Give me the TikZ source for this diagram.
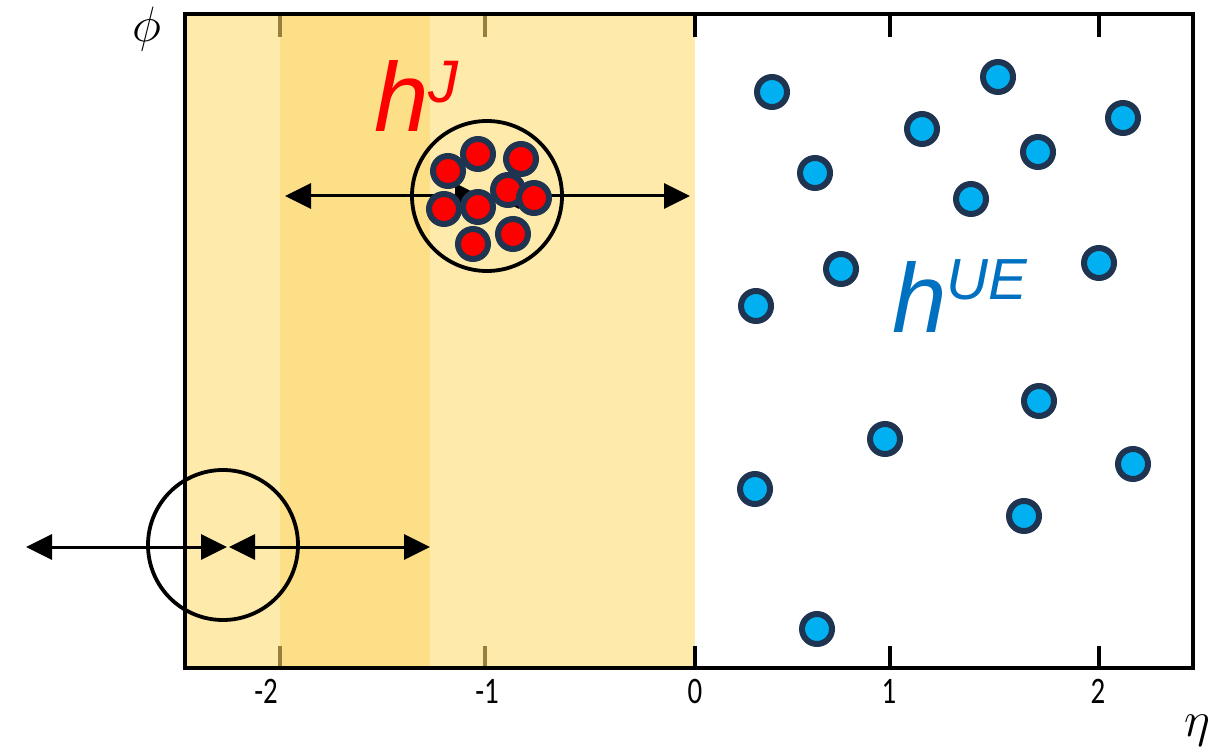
\documentclass[tikz,border=0pt]{standalone}
\usepackage{fontspec}
\setmainfont{Carlito}
\newfontfamily\labelfont{Liberation Sans}
\usetikzlibrary{arrows.meta}

\definecolor{bandlight}{RGB}{254,234,171}
\definecolor{banddark}{RGB}{253,223,136}
\definecolor{tickolive}{RGB}{150,128,60}
\definecolor{dotedge}{RGB}{31,52,80}
\definecolor{uedot}{RGB}{0,176,240}
\definecolor{uetext}{RGB}{0,112,192}

\begin{document}
\begin{tikzpicture}[
    x=0.5pt,
    y=-0.5pt,
    frame/.style={
        draw=black,
        line width=2.2pt
    },
    tickmark/.style={
        line width=1.6pt
    },
    cone/.style={
        circle,
        draw=black,
        line width=1.9pt,
        minimum size=75pt,
        inner sep=0pt
    },
    particle/.style={
        circle,
        draw=dotedge,
        line width=3pt,
        minimum size=15pt,
        inner sep=0pt
    },
    span/.style={
        line width=1.5pt,
        {Triangle[length=13pt,width=12.5pt]}-{Triangle[length=13pt,width=12.5pt]}
    },
    every node/.style={
        font=\fontsize{17}{19}\selectfont
    }
]
\useasboundingbox (0,0) rectangle (1208,753);

% Shaded eta regions
\fill[bandlight] (185,14) rectangle (695,668);
\fill[banddark] (280,14) rectangle (430,668);

% Ticks, top and bottom
\foreach \xpos/\tcol in {280/tickolive,485/tickolive,695/black,890/black,1099/black}{
    \draw[tickmark,draw=\tcol] (\xpos,14) -- (\xpos,37);
    \draw[tickmark,draw=\tcol] (\xpos,668) -- (\xpos,646);
}

% Outer frame
\draw[frame] (185,14) rectangle (1193,668);

% Tick labels
\foreach \lab/\xpos in {-2/266,-1/487,0/695,1/889,2/1098}{
    \node (tick\xpos) at (\xpos,691) {\scalebox{0.85}[1.1]{\lab}};
}

% Axis labels
\node[font=\fontsize{23}{23}\selectfont] (philab) at (147,29) {$\phi$};
\node[font=\fontsize{23}{23}\selectfont] (etalab) at (1197,731) {$\eta$};

% Cones
\node[cone] (jetcone) at (487,196) {};
\node[cone] (probecone) at (223,545) {};

% Arrows across the cones
\coordinate (jetleft) at (285,196);
\coordinate (jetmidl) at (481,196);
\coordinate (jetmidr) at (493,196);
\coordinate (jetright) at (690,196);
\draw[span] (jetleft) -- (jetmidl);
\draw[span] (jetmidr) -- (jetright);

\coordinate (probeleft) at (26,547);
\coordinate (probemidl) at (227,547);
\coordinate (probemidr) at (229,547);
\coordinate (proberight) at (430,547);
\draw[span] (probeleft) -- (probemidl);
\draw[span] (probemidr) -- (proberight);

% Jet particles
\foreach \px/\py [count=\i] in {
    448/171, 478/154, 521/159,
    508/190, 534/198, 444/209,
    478/207, 513/234, 473/244
}{
    \node[particle,fill=red] (jet\i) at (\px,\py) {};
}

% Underlying event particles
\foreach \px/\py [count=\i] in {
    772/92, 998/77, 1123/118, 922/129,
    1038/152, 815/173, 971/199, 841/269,
    1099/263, 756/306, 1039/401, 885/439,
    1133/464, 755/489, 1024/516, 817/629
}{
    \node[particle,fill=uedot] (ue\i) at (\px,\py) {};
}

% Labels
\node[anchor=base west,inner sep=0pt,text=red,font=\labelfont\itshape\fontsize{49}{49}\selectfont]
    (hjlab) at (374,132) {h\raisebox{14.8pt}{\fontsize{30}{30}\selectfont J}};
\node[anchor=base west,inner sep=0pt,text=uetext,font=\labelfont\itshape\fontsize{49}{49}\selectfont]
    (huelab) at (892,332) {h\raisebox{16.5pt}{\fontsize{29}{29}\selectfont UE}};
\end{tikzpicture}
\end{document}
